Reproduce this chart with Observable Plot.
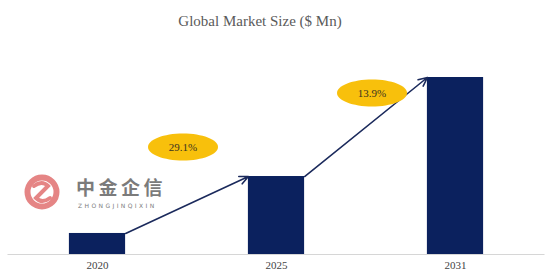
<!DOCTYPE html>
<html>
<head>
<meta charset="utf-8">
<script src="https://cdn.jsdelivr.net/npm/d3@7"></script>
<script src="https://cdn.jsdelivr.net/npm/@observablehq/plot@0.6"></script>
<style>
  html, body { margin: 0; padding: 0; background: #fff; }
  #wrap { position: relative; width: 554px; height: 280px; overflow: hidden; }
  #title { height: 38px; line-height: 42px; text-align: center; padding-right: 34px;
           font-family: "Liberation Serif", "DejaVu Serif", serif; font-size: 15px; color: #5a5a5a; }
  #chart svg text { font-family: "Liberation Serif", "DejaVu Serif", serif !important; }
  #wm { position: absolute; left: 24px; top: 173px; width: 160px; height: 42px; pointer-events: none; }
</style>
</head>
<body>
<div id="wrap">
  <div id="title">Global Market Size ($ Mn)</div>
  <div id="chart"></div>
  <svg id="wm" width="160" height="42" viewBox="0 0 160 42">
    <circle cx="18" cy="19" r="14.5" fill="none" stroke="#e58585" stroke-width="6"/>
    <path d="M10 13 Q18 7 24 13 L12 25 Q18 31 26 25" fill="none" stroke="#e58585" stroke-width="4" stroke-linecap="round"/>
    <text x="52" y="22" font-family="Noto Sans CJK SC" font-weight="bold" font-size="19" fill="#7b7b7b" letter-spacing="3.5">中金企信</text>
    <text x="54" y="35" font-family="DejaVu Sans" font-size="6" fill="#7b7b7b" letter-spacing="2.4">ZHONGJINQIXIN</text>
  </svg>
</div>
<script>
const years = ["2020", "2025", "2031"];
const marketSize = [120, 445, 1010];
const growthLabels = ["29.1%", "13.9%"];

const data = years.map((year, i) => ({i, year, value: marketSize[i]}));
const segments = growthLabels.map((label, k) => ({
  label,
  from: data[k],
  to: data[k + 1]
}));

const halfBar = 0.157;
const labelOffsets = [[-4, -58], [6, -34]];
const serif = "Liberation Serif";

const ellipse = {
  draw(ctx) {
    const rx = 35, ry = 13.5, k = 0.5523;
    ctx.moveTo(rx, 0);
    ctx.bezierCurveTo(rx, ry * k, rx * k, ry, 0, ry);
    ctx.bezierCurveTo(-rx * k, ry, -rx, ry * k, -rx, 0);
    ctx.bezierCurveTo(-rx, -ry * k, -rx * k, -ry, 0, -ry);
    ctx.bezierCurveTo(rx * k, -ry, rx, -ry * k, rx, 0);
    ctx.closePath();
  }
};

const labelMarks = segments.flatMap((s, k) => {
  const mid = [{x: (s.from.i + s.to.i) / 2, y: (s.from.value + s.to.value) / 2, label: s.label}];
  const [dx, dy] = labelOffsets[k];
  return [
    Plot.dot(mid, {x: "x", y: "y", dx, dy, symbol: ellipse, r: 10, fill: "#f8c00c", stroke: "none"}),
    Plot.text(mid, {x: "x", y: "y", dx, dy, text: "label", fill: "#3a3320",
      fontFamily: serif, fontSize: 11})
  ];
});

const plot = Plot.plot({
  width: 554,
  height: 242,
  marginLeft: 7.5,
  marginRight: 9.5,
  marginTop: 39,
  marginBottom: 26,
  style: {fontFamily: serif, background: "transparent", overflow: "visible"},
  x: {domain: [-0.5, years.length - 0.5], axis: null, label: null},
  y: {domain: [0, 1010], axis: null, label: null},
  marks: [
    Plot.ruleY([0], {stroke: "#d6d6d6", strokeWidth: 1.2}),
    Plot.rectY(data, {x1: d => d.i - halfBar, x2: d => d.i + halfBar, y: "value", fill: "#0b215e"}),
    Plot.arrow(segments, {
      x1: d => d.from.i + halfBar, y1: d => d.from.value,
      x2: d => d.to.i - halfBar, y2: d => d.to.value,
      stroke: "#1b2a5c", strokeWidth: 1.6, headLength: 9, headAngle: 50
    }),
    ...labelMarks,
    Plot.axisX(data.map(d => d.i), {tickSize: 0, tickPadding: 7, tickFormat: i => years[i],
      label: null, fontSize: 11, fill: "#444", fontFamily: serif})
  ]
});
document.getElementById("chart").appendChild(plot);
</script>
</body>
</html>
